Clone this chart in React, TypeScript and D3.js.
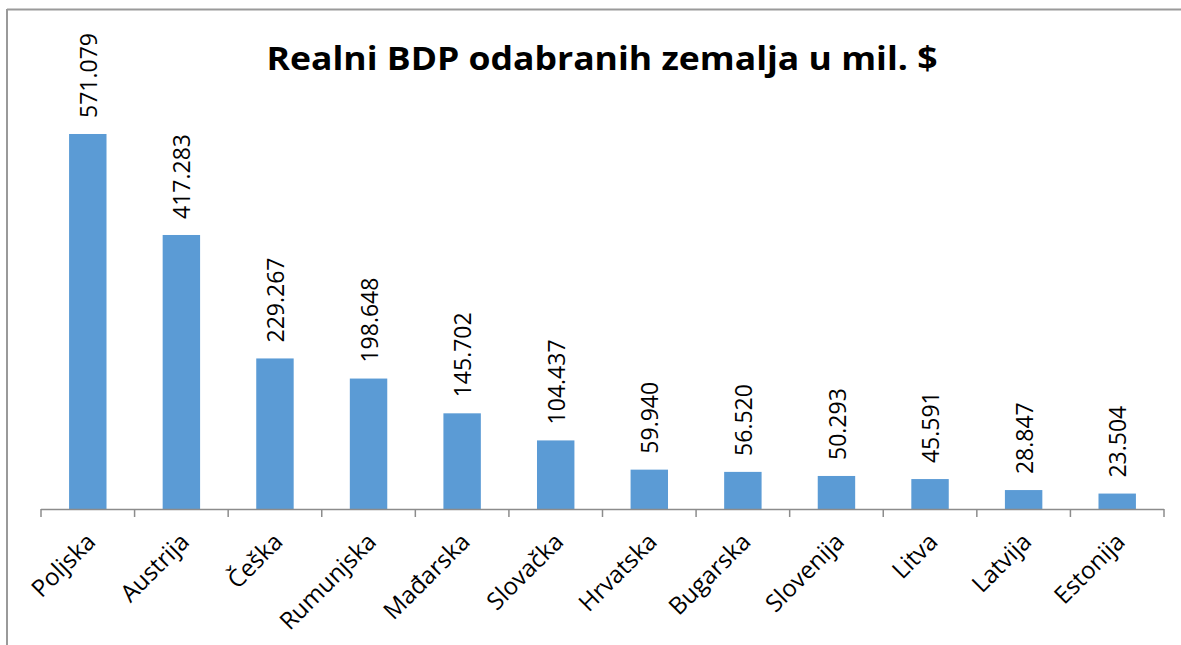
import React from "react";
import * as d3 from "d3";

const categories = ["Poljska", "Austrija", "Češka", "Rumunjska", "Mađarska", "Slovačka", "Hrvatska", "Bugarska", "Slovenija", "Litva", "Latvija", "Estonija"];
const values = [571079, 417283, 229267, 198648, 145702, 104437, 59940, 56520, 50293, 45591, 28847, 23504];
const title = "Realni BDP odabranih zemalja u mil. $";

const W = 1181;
const H = 645;
const axisY = 509;
const plotTop = 115;
const left = 41;
const right = 1164;

const locale = d3.formatLocale({ decimal: ",", thousands: ".", grouping: [3], currency: ["", "$"] });
const fmt = locale.format(",d");

export default function App() {
  const x = d3.scaleBand<string>().domain(categories).range([left, right]).paddingInner(0).paddingOuter(0);
  const y = d3.scaleLinear().domain([0, 600000]).range([axisY, plotTop]);
  const step = x.step();
  const barW = step * 0.4;
  const font = "'Open Sans', sans-serif";
  const ticks = categories.map((c) => x(c) as number).concat([right]);
  return (
    <svg width={W} height={H} style={{ position: "absolute", left: 0, top: 0, background: "#fff" }}>
      <rect x={0} y={0} width={W} height={H} fill="#fff" />
      <line x1={7} y1={9.5} x2={W} y2={9.5} stroke="#9a9a9a" strokeWidth={2} />
      <line x1={7} y1={9} x2={7} y2={H} stroke="#9a9a9a" strokeWidth={2} />
      <text x={602} y={70} textAnchor="middle" fontFamily={font} fontWeight="bold" fontSize={33} textLength={671} lengthAdjust="spacingAndGlyphs" fill="#000">{title}</text>
      {categories.map((c, i) => {
        const cx = (x(c) as number) + step / 2;
        const top = y(values[i]);
        return (
          <g key={c}>
            <rect x={cx - barW / 2} y={top} width={barW} height={axisY - top} fill="#5B9BD5" />
            <text transform={`translate(${cx + 1},${top - 16}) rotate(-90)`} dy="0.35em" textAnchor="start" fontFamily={font} fontSize={23} fill="#000">{fmt(values[i])}</text>
            <text transform={`translate(${cx - 3},${531}) rotate(-45)`} textAnchor="end" dy="0.72em" fontFamily={font} fontSize={24} fill="#000">{c}</text>
          </g>
        );
      })}
      <line x1={left} y1={axisY + 0.5} x2={right} y2={axisY + 0.5} stroke="#8c8c8c" strokeWidth={1.5} />
      {ticks.map((t, i) => (
        <line key={i} x1={t} y1={axisY} x2={t} y2={axisY + 8} stroke="#8c8c8c" strokeWidth={1.5} />
      ))}
    </svg>
  );
}
